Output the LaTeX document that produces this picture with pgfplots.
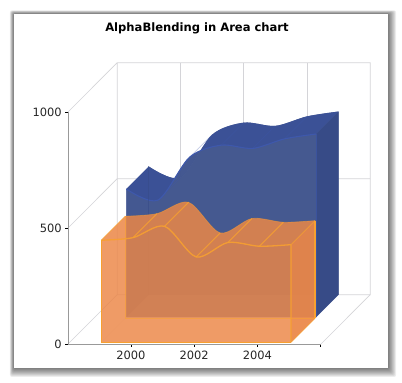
\documentclass[border=0pt]{standalone}
\usepackage{pgfplots}
\usepackage{pgfplotstable}
\usepackage{fontspec}
\setmainfont{DejaVu Sans}
\pgfplotsset{compat=1.18}
\usepgfplotslibrary{fillbetween}
\pgfplotstableread{
year v
1999 553
2000 505
2001 690
2002 742
2003 728
2004 769
2005 790
}\bluedata
\pgfplotstableread{
year v
1999 440
2000 451
2001 500
2002 368
2003 430
2004 414
2005 421
}\orangedata
\definecolor{wall}{RGB}{212,212,216}
\definecolor{oF}{RGB}{236,135,71}
\definecolor{oL}{RGB}{247,160,48}
\definecolor{bF}{RGB}{68,88,144}
\definecolor{bT}{RGB}{58,80,150}
\definecolor{bS}{RGB}{55,75,135}
\definecolor{bL}{RGB}{62,88,172}
\begin{document}
\begin{tikzpicture}
\begin{scope}[x=1bp,y=-1bp,shift={(-67.7bp,344.3bp)}]
\fill[white] (0,0) rectangle (402,383);
\foreach \i in {0,...,9}{
  \fill[black,opacity=0.07,rounded corners=2bp] (14-\i*0.45,14-\i*0.4) rectangle (388+\i*0.9,368+\i*1);
}
\fill[white] (14,14) rectangle (388,368);
\node[font=\bfseries\fontsize{11.6}{13}\selectfont,text=black] at (197,28.5) {AlphaBlending in Area chart};
\end{scope}
\begin{axis}[
  at={(0,0)},anchor=south west,scale only axis,
  width=253bp,height=232bp,
  xmin=1998,xmax=2006,ymin=0,ymax=1000,
  clip=false,
  set layers=axis on top,
  axis x line*=bottom,axis y line*=left,
  axis line style={-,color=gray!80},
  xtick={2000,2002,2004,2006},xticklabels={2000,2002,2004,},
  ytick={0,500,1000},
  major tick length=2.5bp,
  tick align=outside,
  tick style={black,line width=0.6pt},
  tick label style={font=\fontsize{11.5}{13}\selectfont,text=black!85},
  xticklabel style={yshift=-1bp},
  /pgf/number format/assume math mode=true,
  /pgf/number format/1000 sep={},
]
% walls
\addplot[wall,line width=0.7pt,forget plot] coordinates {(1998,1000)(1999.5652,1213.4)(2007.5652,1213.4)(2007.5652,213.4)(1999.5652,213.4)(1999.5652,1213.4)};
\addplot[wall,line width=0.7pt,forget plot] coordinates {(1998,500)(1999.5652,713.4)(2007.5652,713.4)};
\addplot[wall,line width=0.7pt,forget plot] coordinates {(1998,0)(1999.5652,213.4)};
\addplot[wall,line width=0.7pt,forget plot] coordinates {(2006,0)(2007.5652,213.4)};
\addplot[wall,line width=0.7pt,forget plot] coordinates {(2001.5652,213.4)(2001.5652,1213.4)};
\addplot[wall,line width=0.7pt,forget plot] coordinates {(2003.5652,213.4)(2003.5652,1213.4)};
\addplot[wall,line width=0.7pt,forget plot] coordinates {(2005.5652,213.4)(2005.5652,1213.4)};
% blue series
\addplot[name path=bf,draw=none,smooth,forget plot] table[x expr=\thisrow{year}+0.8538,y expr=\thisrow{v}+116.38] {\bluedata};
\addplot[name path=bb,draw=none,smooth,forget plot] table[x expr=\thisrow{year}+1.5652,y expr=\thisrow{v}+213.4] {\bluedata};
\addplot[fill=bF,fill opacity=0.9,draw=none,smooth,forget plot] table[x expr=\thisrow{year}+1.5652,y expr=\thisrow{v}+213.4] {\bluedata} -- (axis cs:2006.5652,213.4) -- (axis cs:2000.5652,213.4) -- cycle;
\addplot[bT,fill opacity=0.95,forget plot] fill between[of=bf and bb,on layer=main];
\addplot[fill=bT,draw=none,fill opacity=0.95,forget plot] coordinates {(1999.8538,116.38)(1999.8538,669.38)(2000.5652,766.4)(2000.5652,213.4)} -- cycle;
\addplot[fill=bS,draw=none,forget plot] coordinates {(2005.8538,116.38)(2005.8538,906.38)(2006.5652,1003.4)(2006.5652,213.4)} -- cycle;
\addplot[fill=bF,fill opacity=0.9,draw=none,smooth,forget plot] table[x expr=\thisrow{year}+0.8538,y expr=\thisrow{v}+116.38] {\bluedata} -- (axis cs:2005.8538,116.38) -- (axis cs:1999.8538,116.38) -- cycle;
\addplot[bL,line width=1.1pt,smooth,forget plot] table[x expr=\thisrow{year}+0.8538,y expr=\thisrow{v}+116.38] {\bluedata};
\addplot[bS,line width=0.7pt,opacity=.5,forget plot] coordinates {(2000.5652,213.4)(2000.5652,766.4)};
\addplot[bL,line width=0.7pt,opacity=.3,forget plot] coordinates {(2000.8538,621.38)(2001.5652,718.4)};
\addplot[bL,line width=0.7pt,opacity=.3,forget plot] coordinates {(2001.8538,806.38)(2002.5652,903.4)};
\addplot[bL,line width=0.7pt,opacity=.3,forget plot] coordinates {(2002.8538,858.38)(2003.5652,955.4)};
\addplot[bL,line width=0.7pt,opacity=.3,forget plot] coordinates {(2003.8538,844.38)(2004.5652,941.4)};
\addplot[bL,line width=0.7pt,opacity=.3,forget plot] coordinates {(2004.8538,885.38)(2005.5652,982.4)};
\addplot[bL,line width=0.8pt,opacity=.6,forget plot] coordinates {(2005.8538,116.38)(2005.8538,906.38)};
% orange series
\addplot[name path=of,draw=none,smooth,forget plot] table[x expr=\thisrow{year}+0.0632,y expr=\thisrow{v}+8.62] {\orangedata};
\addplot[name path=ob,draw=none,smooth,forget plot] table[x expr=\thisrow{year}+0.8221,y expr=\thisrow{v}+112.07] {\orangedata};
\addplot[fill=oF,draw=none,fill opacity=0.5,smooth,forget plot] table[x expr=\thisrow{year}+0.8221,y expr=\thisrow{v}+112.07] {\orangedata} -- (axis cs:2005.8221,112.07) -- (axis cs:1999.8221,112.07) -- cycle;
\addplot[oF,fill opacity=0.7,forget plot] fill between[of=of and ob,on layer=main];
\addplot[fill=oF,draw=none,fill opacity=0.5,forget plot] coordinates {(1999.0632,8.62)(1999.0632,448.62)(1999.8221,552.07)(1999.8221,112.07)} -- cycle;
\addplot[fill=oF,draw=none,fill opacity=0.85,forget plot] coordinates {(2005.0632,8.62)(2005.0632,429.62)(2005.8221,533.07)(2005.8221,112.07)} -- cycle;
\addplot[fill=oF,draw=none,fill opacity=0.5,forget plot] coordinates {(1999.0632,8.62)(2005.0632,8.62)(2005.8221,112.07)(1999.8221,112.07)} -- cycle;
\addplot[fill=oF,fill opacity=0.65,draw=none,smooth,forget plot] table[x expr=\thisrow{year}+0.0632,y expr=\thisrow{v}+8.62] {\orangedata} -- (axis cs:2005.0632,8.62) -- (axis cs:1999.0632,8.62) -- cycle;
\addplot[oL,line width=1.3pt,smooth,opacity=.9,forget plot] table[x expr=\thisrow{year}+0.0632,y expr=\thisrow{v}+8.62] {\orangedata};
\addplot[oL,line width=0.8pt,smooth,opacity=.4,forget plot] table[x expr=\thisrow{year}+0.8221,y expr=\thisrow{v}+112.07] {\orangedata};
\addplot[oL,line width=1pt,opacity=.8,forget plot] coordinates {(2000.0632,459.62)(2000.8221,563.07)};
\addplot[oL,line width=1pt,opacity=.8,forget plot] coordinates {(2001.0632,508.62)(2001.8221,612.07)};
\addplot[oL,line width=1pt,opacity=.8,forget plot] coordinates {(2002.0632,376.62)(2002.8221,480.07)};
\addplot[oL,line width=1pt,opacity=.8,forget plot] coordinates {(2003.0632,438.62)(2003.8221,542.07)};
\addplot[oL,line width=1pt,opacity=.8,forget plot] coordinates {(2004.0632,422.62)(2004.8221,526.07)};
\addplot[oL,line width=1.2pt,forget plot] coordinates {(2005.8221,533.07)(2005.8221,112.07)};
\addplot[oL,line width=1.5pt,opacity=.6,forget plot] coordinates {(2005.0632,429.62)(2005.0632,8.62)};
\addplot[oL,line width=1.5pt,opacity=.6,forget plot] coordinates {(1999.8221,552.07)(1999.8221,112.07)};
\addplot[oL,line width=1pt,opacity=.6,forget plot] coordinates {(1999.8221,112.07)(2005.8221,112.07)};
\addplot[oL,line width=0.8pt,opacity=.7,forget plot] coordinates {(1999.0632,448.62)(1999.8221,552.07)};
\addplot[oL,line width=0.8pt,opacity=.7,forget plot] coordinates {(2005.0632,429.62)(2005.8221,533.07)};
\addplot[oL,line width=0.8pt,opacity=.7,forget plot] coordinates {(2005.0632,8.62)(2005.8221,112.07)};
\addplot[oL,line width=1.2pt,forget plot] coordinates {(1999.0632,448.62)(1999.0632,8.62)(2005.0632,8.62)};
\end{axis}
\useasboundingbox (-67.7bp,-38.7bp) rectangle (334.3bp,344.3bp);
\end{tikzpicture}
\end{document}
